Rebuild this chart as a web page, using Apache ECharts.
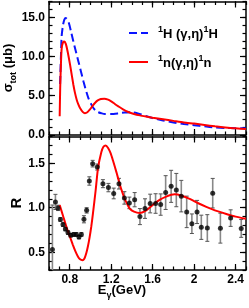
<!DOCTYPE html>
<html><head><meta charset="utf-8">
<script src="https://cdn.jsdelivr.net/npm/echarts@6/dist/echarts.min.js"></script>
<style>html,body{margin:0;padding:0;background:#fff}#c{width:249px;height:308px}</style>
</head><body><div id="c"></div>
<script>
// ---- data ----
const hE     = [0.707,0.715,0.722,0.735,0.748,0.761,0.777,0.793,0.81,0.835,0.86,0.883,0.908,0.932,0.956,0.98,1.004,1.028,1.05,1.076,1.11,1.14,1.2,1.269,1.33,1.397,1.45,1.494,1.55,1.6,1.7,1.8,1.9,2.0,2.1,2.2,2.3,2.4,2.5];
const hSigma = [6.5,10.0,12.6,14.0,14.7,14.9,14.7,14.2,13.3,11.9,10.6,9.4,8.1,6.84,5.7,4.7,4.0,3.44,3.1,2.9,2.75,2.68,2.68,2.76,2.86,2.9,2.78,2.6,2.35,2.15,1.85,1.6,1.4,1.25,1.1,0.97,0.9,0.86,0.85];
const nE     = [0.703,0.708,0.715,0.722,0.735,0.748,0.762,0.78,0.803,0.82,0.835,0.85,0.867,0.883,0.899,0.925,0.947,0.97,0.995,1.02,1.043,1.07,1.1,1.134,1.17,1.204,1.235,1.269,1.31,1.365,1.42,1.477,1.55,1.6,1.7,1.8,1.9,2.0,2.1,2.2,2.3,2.4,2.5];
const nSigma = [2.4,6.0,9.0,11.0,11.8,11.9,11.6,10.6,8.96,7.6,6.4,5.4,4.5,3.9,3.44,2.95,2.78,2.9,3.25,3.7,4.08,4.4,4.58,4.63,4.5,4.25,3.95,3.65,3.3,2.93,2.68,2.5,2.32,2.2,2.0,1.8,1.6,1.45,1.28,1.1,0.95,0.85,0.75];
const rE     = [0.703,0.735,0.768,0.80,0.831,0.855,0.88,0.90,0.922,0.942,0.96,0.976,0.992,1.008,1.024,1.05,1.072,1.105,1.125,1.147,1.17,1.195,1.217,1.25,1.281,1.305,1.33,1.355,1.378,1.42,1.474,1.53,1.60,1.67,1.73,1.81,1.88,1.956,2.04,2.117,2.2,2.31,2.4,2.5];
const rRatio = [1.03,0.91,0.785,0.68,0.58,0.51,0.45,0.42,0.41,0.43,0.49,0.57,0.67,0.79,0.935,1.196,1.44,1.625,1.685,1.70,1.67,1.61,1.53,1.40,1.27,1.18,1.10,1.04,0.99,0.955,0.94,0.965,1.03,1.09,1.125,1.15,1.135,1.10,1.05,1.01,0.97,0.93,0.90,0.875];
const dataE   = [0.633,0.662,0.687,0.71,0.735,0.758,0.783,0.809,0.838,0.864,0.889,0.912,0.937,0.963,0.989,1.021,1.066,1.12,1.173,1.224,1.275,1.327,1.375,1.426,1.477,1.526,1.576,1.628,1.677,1.725,1.778,1.828,1.876,1.928,1.978,2.028,2.069,2.127,2.179,2.253,2.352,2.454];
const dataR   = [0.53,1.065,0.998,0.868,0.81,0.76,0.72,0.69,0.70,0.70,0.67,0.70,0.87,0.97,1.30,1.495,1.457,1.27,1.226,1.16,1.27,1.11,1.054,1.09,0.90,0.99,1.047,1.047,1.035,1.17,1.24,1.198,1.13,0.953,0.82,0.952,0.78,0.772,1.163,0.77,0.883,0.767];
const dataErr = [0.5,0.085,0.03,0.02,0.02,0.02,0.02,0.02,0.02,0.02,0.02,0.02,0.04,0.03,0.047,0.037,0.034,0.045,0.047,0.06,0.06,0.07,0.065,0.08,0.09,0.11,0.105,0.11,0.12,0.19,0.18,0.187,0.177,0.177,0.11,0.13,0.136,0.15,0.166,0.168,0.093,0.10];
const xTickLabels    = [0.8,1.2,1.6,2.0,2.4];
const yTopTickLabels = [0,5,10,15];
const yBotTickLabels = [0.5,1.0,1.5];

// ---- axis structure ----
const X_MIN=0.6, X_MAX=2.5, YT_MIN=0, YT_MAX=17, YB_MIN=0.3, YB_MAX=1.8;
function steps(a,b,s){const r=[];const n=Math.round((b-a)/s);for(let i=0;i<=n;i++)r.push(+(a+i*s).toFixed(3));return r;}
const xMinor = steps(X_MIN,X_MAX,0.1);
const ytMinor = steps(YT_MIN,YT_MAX,1);
const ybMinor = steps(YB_MIN,YB_MAX,0.1);
const FONT='Liberation Sans';
const lineCol='#000';

function mkAxis(grid,pos,min,max,ticks,len,showLine,labels,fmt){
  return {type:'value',gridIndex:grid,position:pos,min:min,max:max,
    axisLine:{show:showLine,onZero:false,lineStyle:{color:lineCol,width:1.5}},
    axisTick:{show:true,inside:true,length:len,customValues:ticks,lineStyle:{color:lineCol,width:1.2}},
    axisLabel:labels?{show:true,customValues:labels,formatter:fmt,margin:4,color:'#000',fontFamily:FONT,fontWeight:'bold',fontSize:12}:{show:false},
    splitLine:{show:false}};
}
const xfmt=v=>(Math.abs(v-2)<1e-6?'2':(+v).toFixed(1));
const yfmt=v=>(+v).toFixed(1);

const xAxes=[], yAxes=[];
xAxes.push(mkAxis(0,'bottom',X_MIN,X_MAX,xTickLabels,6,true,null));
xAxes.push(mkAxis(0,'bottom',X_MIN,X_MAX,xMinor,3.5,false,null));
xAxes.push(mkAxis(0,'top',X_MIN,X_MAX,xTickLabels,6,true,null));
xAxes.push(mkAxis(0,'top',X_MIN,X_MAX,xMinor,3.5,false,null));
xAxes.push(mkAxis(1,'bottom',X_MIN,X_MAX,xTickLabels,6,true,xTickLabels,xfmt));
xAxes.push(mkAxis(1,'bottom',X_MIN,X_MAX,xMinor,3.5,false,null));
xAxes.push(mkAxis(1,'top',X_MIN,X_MAX,xTickLabels,6,true,null));
xAxes.push(mkAxis(1,'top',X_MIN,X_MAX,xMinor,3.5,false,null));

yAxes.push(mkAxis(0,'left',YT_MIN,YT_MAX,yTopTickLabels,6,true,yTopTickLabels,yfmt));
yAxes.push(mkAxis(0,'left',YT_MIN,YT_MAX,ytMinor,3.5,false,null));
yAxes.push(mkAxis(0,'right',YT_MIN,YT_MAX,yTopTickLabels,6,true,null));
yAxes.push(mkAxis(0,'right',YT_MIN,YT_MAX,ytMinor,3.5,false,null));
yAxes.push(mkAxis(1,'left',YB_MIN,YB_MAX,yBotTickLabels,6,true,yBotTickLabels,yfmt));
yAxes.push(mkAxis(1,'left',YB_MIN,YB_MAX,ybMinor,3.5,false,null));
yAxes.push(mkAxis(1,'right',YB_MIN,YB_MAX,yBotTickLabels,6,true,null));
yAxes.push(mkAxis(1,'right',YB_MIN,YB_MAX,ybMinor,3.5,false,null));

const zip=(a,b)=>a.map((v,i)=>[v,b[i]]);
const errData = dataE.map((e,i)=>[e,dataR[i],dataErr[i]]);

const legendRich = {
  b:{fontFamily:FONT,fontWeight:'bold',fontSize:13,color:'#000',lineHeight:16,verticalAlign:'bottom'},
  sup:{fontFamily:FONT,fontWeight:'bold',fontSize:9,color:'#000',lineHeight:16,verticalAlign:'top'}
};
const NAME_H='1H (γ,η)1H', NAME_N='1n(γ,η)1n';
const legendBase = {left:128,itemWidth:19,itemHeight:12,itemGap:0,padding:0,
  itemStyle:{opacity:0,borderWidth:0},lineStyle:{inactiveWidth:2}};

const chart = echarts.init(document.getElementById('c'),null,{renderer:'canvas'});
chart.setOption({
  animation:false,
  backgroundColor:'#fff',
  grid:[{left:49,right:3,top:1.5,height:133.5},{left:49,right:3,top:136.5,height:133.5}],
  xAxis:xAxes, yAxis:yAxes,
  legend:[
    Object.assign({data:[NAME_H],top:25,
     formatter:()=>'{sup|1}{b|H (γ,η)}{sup|1}{b|H}',textStyle:{rich:legendRich,padding:[0,0,0,5]}},legendBase),
    Object.assign({data:[NAME_N],top:54,
     formatter:()=>'{sup|1}{b|n(γ,η)}{sup|1}{b|n}',textStyle:{rich:legendRich,padding:[0,0,0,5]}},legendBase)
  ],
  graphic:[
    {type:'text',x:10,y:68,rotation:Math.PI/2,style:{
      text:'{b|σ}{sub|tot}{b| (μb)}',align:'center',verticalAlign:'middle',
      rich:{b:{fontFamily:FONT,fontWeight:'bold',fontSize:13,fill:'#000',lineHeight:16,verticalAlign:'top'},
            sub:{fontFamily:FONT,fontWeight:'bold',fontSize:9,fill:'#000',lineHeight:16,verticalAlign:'bottom'}}}},
    {type:'text',x:17,y:203,rotation:Math.PI/2,style:{
      text:'R',align:'center',verticalAlign:'middle',font:'bold 15px "Liberation Sans"',fill:'#000'}},
    {type:'text',x:122,y:292,style:{
      text:'{b|E}{sub|γ}{b|(GeV)}',align:'center',verticalAlign:'middle',
      rich:{b:{fontFamily:FONT,fontWeight:'bold',fontSize:13,fill:'#000',lineHeight:16,verticalAlign:'top'},
            sub:{fontFamily:FONT,fontWeight:'bold',fontSize:9,fill:'#000',lineHeight:16,verticalAlign:'bottom'}}}}
  ],
  series:[
    {name:NAME_H,type:'line',xAxisIndex:0,yAxisIndex:0,data:zip(hE,hSigma),showSymbol:false,symbol:'none',smooth:0.2,
     lineStyle:{color:'#0a14ff',width:2,type:[8,4]},itemStyle:{color:'#0a14ff'}},
    {name:NAME_N,type:'line',xAxisIndex:0,yAxisIndex:0,data:zip(nE,nSigma),showSymbol:false,symbol:'none',smooth:0.2,
     lineStyle:{color:'#ff0000',width:2},itemStyle:{color:'#ff0000'}},
    {type:'custom',xAxisIndex:4,yAxisIndex:4,data:errData,clip:true,
     renderItem:(params,api)=>{
       const x=api.value(0), y=api.value(1), e=api.value(2);
       const lo=Math.max(y-e,YB_MIN), hi=Math.min(y+e,YB_MAX);
       const p1=api.coord([x,hi]), p2=api.coord([x,lo]);
       const cw=2;
       const children=[{type:'line',shape:{x1:p1[0],y1:p1[1],x2:p2[0],y2:p2[1]},style:{stroke:'#888',lineWidth:1.6}}];
       if(y+e<YB_MAX) children.push({type:'line',shape:{x1:p1[0]-cw,y1:p1[1],x2:p1[0]+cw,y2:p1[1]},style:{stroke:'#555',lineWidth:1}});
       if(y-e>YB_MIN) children.push({type:'line',shape:{x1:p2[0]-cw,y1:p2[1],x2:p2[0]+cw,y2:p2[1]},style:{stroke:'#555',lineWidth:1}});
       return {type:'group',children:children};
     }},
    {type:'line',xAxisIndex:4,yAxisIndex:4,data:zip(rE,rRatio),showSymbol:false,symbol:'none',smooth:0.2,
     lineStyle:{color:'#ff0000',width:2},z:3},
    {type:'scatter',xAxisIndex:4,yAxisIndex:4,data:zip(dataE,dataR),symbol:'circle',symbolSize:5,
     itemStyle:{color:'#000'},z:4}
  ]
});
</script></body></html>
